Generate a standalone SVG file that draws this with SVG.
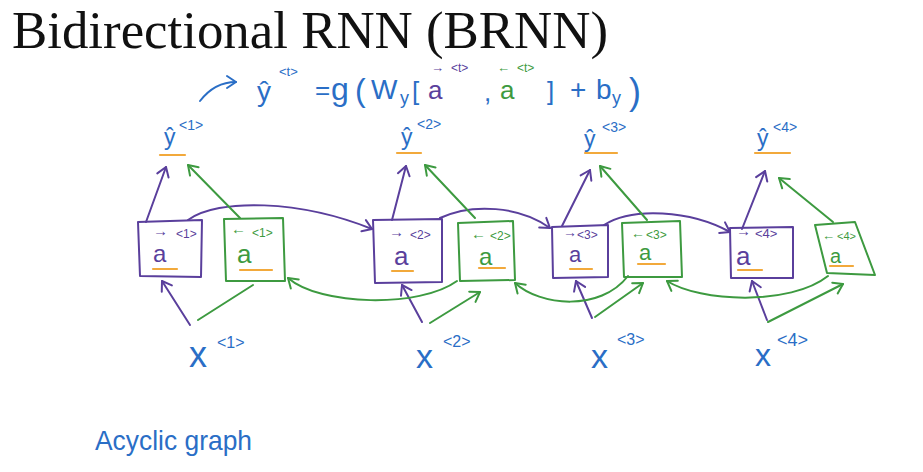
<svg xmlns="http://www.w3.org/2000/svg" width="923" height="472" viewBox="0 0 923 472">
<defs>
<style>
.bg{fill:#ffffff}
.title{font-family:"Liberation Serif","DejaVu Serif",serif;font-size:52px;fill:#111}
.hw{font-family:"Liberation Sans","DejaVu Sans",sans-serif}
.blue{fill:#2a6ec6}
.pt{fill:#5a3f9c}
.gt{fill:#3d9a40}
.p{fill:none;stroke:#5a3f9c;stroke-width:2;stroke-linecap:round;stroke-linejoin:round}
.g{fill:none;stroke:#3d9a40;stroke-width:2;stroke-linecap:round;stroke-linejoin:round}
.bl{fill:none;stroke:#2a6ec6;stroke-width:2;stroke-linecap:round;stroke-linejoin:round}
.o{fill:none;stroke:#f2a93b;stroke-width:2.2;stroke-linecap:round}
</style>
<marker id="ap" markerUnits="userSpaceOnUse" viewBox="-12 -10 14 20" markerWidth="14" markerHeight="20" refX="0" refY="0" orient="auto" overflow="visible">
<path d="M-9,-6 L0,0 L-9,6" fill="none" stroke="#5a3f9c" stroke-width="2" stroke-linecap="round" stroke-linejoin="round"/>
</marker>
<marker id="ag" markerUnits="userSpaceOnUse" viewBox="-12 -10 14 20" markerWidth="14" markerHeight="20" refX="0" refY="0" orient="auto" overflow="visible">
<path d="M-9,-6 L0,0 L-9,6" fill="none" stroke="#3d9a40" stroke-width="2" stroke-linecap="round" stroke-linejoin="round"/>
</marker>
<marker id="ab" markerUnits="userSpaceOnUse" viewBox="-12 -10 14 20" markerWidth="14" markerHeight="20" refX="0" refY="0" orient="auto" overflow="visible">
<path d="M-9,-6 L0,0 L-9,6" fill="none" stroke="#2a6ec6" stroke-width="2" stroke-linecap="round" stroke-linejoin="round"/>
</marker>
</defs>
<rect class="bg" x="0" y="0" width="923" height="472"/>

<g id="title">
<text class="title" x="12" y="48" textLength="596" lengthAdjust="spacingAndGlyphs">Bidirectional RNN (BRNN)</text>
</g>

<g id="formula" class="hw">
<path class="bl" d="M200,101 C210,88 221,82 236,82" marker-end="url(#ab)"/>
<text class="blue" x="257" y="101" font-size="28">ŷ</text>
<text class="blue" x="279" y="76" font-size="13">&lt;t&gt;</text>
<text class="blue" x="315" y="99" font-size="26">=</text>
<text class="blue" x="331" y="100" font-size="32">g</text>
<text class="blue" x="355" y="101" font-size="32">(</text>
<text class="blue" x="371" y="99" font-size="28">W</text>
<text class="blue" x="400" y="104" font-size="18">y</text>
<text class="blue" x="412" y="100" font-size="26">[</text>
<text class="pt" x="428" y="99" font-size="26">a</text>
<text class="pt" x="431" y="72" font-size="13">→</text>
<text class="pt" x="451" y="72" font-size="12">&lt;t&gt;</text>
<text class="blue" x="484" y="101" font-size="26">,</text>
<text class="gt" x="500" y="99" font-size="26">a</text>
<text class="gt" x="497" y="72" font-size="13">←</text>
<text class="gt" x="517" y="72" font-size="12">&lt;t&gt;</text>
<text class="blue" x="547" y="100" font-size="26">]</text>
<text class="blue" x="570" y="99" font-size="28">+</text>
<text class="blue" x="596" y="99" font-size="28">b</text>
<text class="blue" x="612" y="104" font-size="18">y</text>
<text class="blue" x="629" y="104" font-size="36">)</text>
</g>

<g id="connectors">
<path class="p" d="M190,325 L162,281" marker-end="url(#ap)"/>
<path class="p" d="M422,322 L402,285" marker-end="url(#ap)"/>
<path class="p" d="M592,318 L576,281" marker-end="url(#ap)"/>
<path class="p" d="M767,320 L752,281" marker-end="url(#ap)"/>
<path class="p" d="M146,222 L166,167" marker-end="url(#ap)"/>
<path class="p" d="M392,220 L406,166" marker-end="url(#ap)"/>
<path class="p" d="M562,226 L590,170" marker-end="url(#ap)"/>
<path class="p" d="M742,229 L765,171" marker-end="url(#ap)"/>
<path class="p" d="M188,220 C218,198 300,200 372,229" marker-end="url(#ap)"/>
<path class="p" d="M440,218 C472,203 520,206 550,228" marker-end="url(#ap)"/>
<path class="p" d="M604,225 C632,207 690,210 730,232" marker-end="url(#ap)"/>
<path class="g" d="M198,320 L253,285"/>
<path class="g" d="M430,323 L480,292" marker-end="url(#ag)"/>
<path class="g" d="M595,317 L643,283" marker-end="url(#ag)"/>
<path class="g" d="M768,322 L843,284" marker-end="url(#ag)"/>
<path class="g" d="M240,218 L188,165" marker-end="url(#ag)"/>
<path class="g" d="M475,218 L425,165" marker-end="url(#ag)"/>
<path class="g" d="M647,220 L600,166" marker-end="url(#ag)"/>
<path class="g" d="M833,222 L779,178" marker-end="url(#ag)"/>
<path class="g" d="M457,281 C420,308 320,306 288,278" marker-end="url(#ag)"/>
<path class="g" d="M628,276 C600,312 540,306 515,283" marker-end="url(#ag)"/>
<path class="g" d="M828,276 C790,306 700,302 667,281" marker-end="url(#ag)"/>
</g>

<g id="node-a-fwd-1" class="hw">
<polygon class="p" points="138,222 202,220 201,277 140,276"/>
<text class="pt" x="153" y="236" font-size="15">→</text>
<text class="pt" x="176" y="238" font-size="12">&lt;1&gt;</text>
<text class="pt" x="153" y="262" font-size="24">a</text>
<line class="o" x1="153" y1="269" x2="177" y2="269"/>
</g>
<g id="node-a-bwd-1" class="hw">
<polygon class="g" points="224,219 283,218 285,281 226,281"/>
<text class="gt" x="231" y="234" font-size="15">←</text>
<text class="gt" x="252" y="237" font-size="12">&lt;1&gt;</text>
<text class="gt" x="237" y="263" font-size="26">a</text>
<line class="o" x1="240" y1="270" x2="272" y2="270"/>
</g>
<g id="node-a-fwd-2" class="hw">
<polygon class="p" points="373,220 442,219 442,282 375,283"/>
<text class="pt" x="389" y="237" font-size="15">→</text>
<text class="pt" x="410" y="239" font-size="12">&lt;2&gt;</text>
<text class="pt" x="394" y="265" font-size="26">a</text>
<line class="o" x1="392" y1="271" x2="413" y2="271"/>
</g>
<g id="node-a-bwd-2" class="hw">
<polygon class="g" points="458,223 513,221 515,280 460,281"/>
<text class="gt" x="471" y="239" font-size="15">←</text>
<text class="gt" x="490" y="240" font-size="12">&lt;2&gt;</text>
<text class="gt" x="479" y="265" font-size="24">a</text>
<line class="o" x1="479" y1="268" x2="505" y2="268"/>
</g>
<g id="node-a-fwd-3" class="hw">
<polygon class="p" points="552,227 608,225 608,277 553,278"/>
<text class="pt" x="563" y="237" font-size="14">→</text>
<text class="pt" x="577" y="239" font-size="12">&lt;3&gt;</text>
<text class="pt" x="569" y="262" font-size="22">a</text>
<line class="o" x1="570" y1="269" x2="592" y2="269"/>
</g>
<g id="node-a-bwd-3" class="hw">
<polygon class="g" points="622,223 680,221 682,277 624,277"/>
<text class="gt" x="631" y="238" font-size="14">←</text>
<text class="gt" x="646" y="239" font-size="12">&lt;3&gt;</text>
<text class="gt" x="639" y="260" font-size="22">a</text>
<line class="o" x1="638" y1="264" x2="665" y2="264"/>
</g>
<g id="node-a-fwd-4" class="hw">
<polygon class="p" points="730,228 793,227 793,278 731,278"/>
<text class="pt" x="736" y="236" font-size="15">→</text>
<text class="pt" x="755" y="238" font-size="13">&lt;4&gt;</text>
<text class="pt" x="736" y="265" font-size="26">a</text>
<line class="o" x1="738" y1="270" x2="762" y2="270"/>
</g>
<g id="node-a-bwd-4" class="hw">
<polygon class="g" points="815,225 855,222 875,275 827,273"/>
<text class="gt" x="822" y="240" font-size="13">←</text>
<text class="gt" x="837" y="240" font-size="11">&lt;4&gt;</text>
<text class="gt" x="830" y="263" font-size="20">a</text>
<line class="o" x1="830" y1="266" x2="853" y2="266"/>
</g>

<g id="node-y1" class="hw">
<text class="blue" x="164" y="145" font-size="23">ŷ</text>
<text class="blue" x="179" y="130" font-size="14">&lt;1&gt;</text>
<line class="o" x1="160" y1="155" x2="185" y2="155"/>
</g>
<g id="node-y2" class="hw">
<text class="blue" x="401" y="145" font-size="23">ŷ</text>
<text class="blue" x="417" y="129" font-size="14">&lt;2&gt;</text>
<line class="o" x1="397" y1="153" x2="421" y2="153"/>
</g>
<g id="node-y3" class="hw">
<text class="blue" x="584" y="147" font-size="23">ŷ</text>
<text class="blue" x="602" y="132" font-size="14">&lt;3&gt;</text>
<line class="o" x1="585" y1="153" x2="617" y2="153"/>
</g>
<g id="node-y4" class="hw">
<text class="blue" x="757" y="146" font-size="23">ŷ</text>
<text class="blue" x="773" y="132" font-size="14">&lt;4&gt;</text>
<line class="o" x1="755" y1="153" x2="790" y2="153"/>
</g>

<g id="node-x1" class="hw">
<text class="blue" x="189" y="367" font-size="36">x</text>
<text class="blue" x="217" y="348" font-size="16">&lt;1&gt;</text>
</g>
<g id="node-x2" class="hw">
<text class="blue" x="416" y="368" font-size="34">x</text>
<text class="blue" x="443" y="347" font-size="16">&lt;2&gt;</text>
</g>
<g id="node-x3" class="hw">
<text class="blue" x="591" y="368" font-size="34">x</text>
<text class="blue" x="617" y="345" font-size="16">&lt;3&gt;</text>
</g>
<g id="node-x4" class="hw">
<text class="blue" x="755" y="366" font-size="32">x</text>
<text class="blue" x="777" y="346" font-size="18">&lt;4&gt;</text>
</g>

<g id="note" class="hw">
<text class="blue" x="95" y="450" font-size="28" textLength="157" lengthAdjust="spacingAndGlyphs">Acyclic graph</text>
</g>
</svg>
